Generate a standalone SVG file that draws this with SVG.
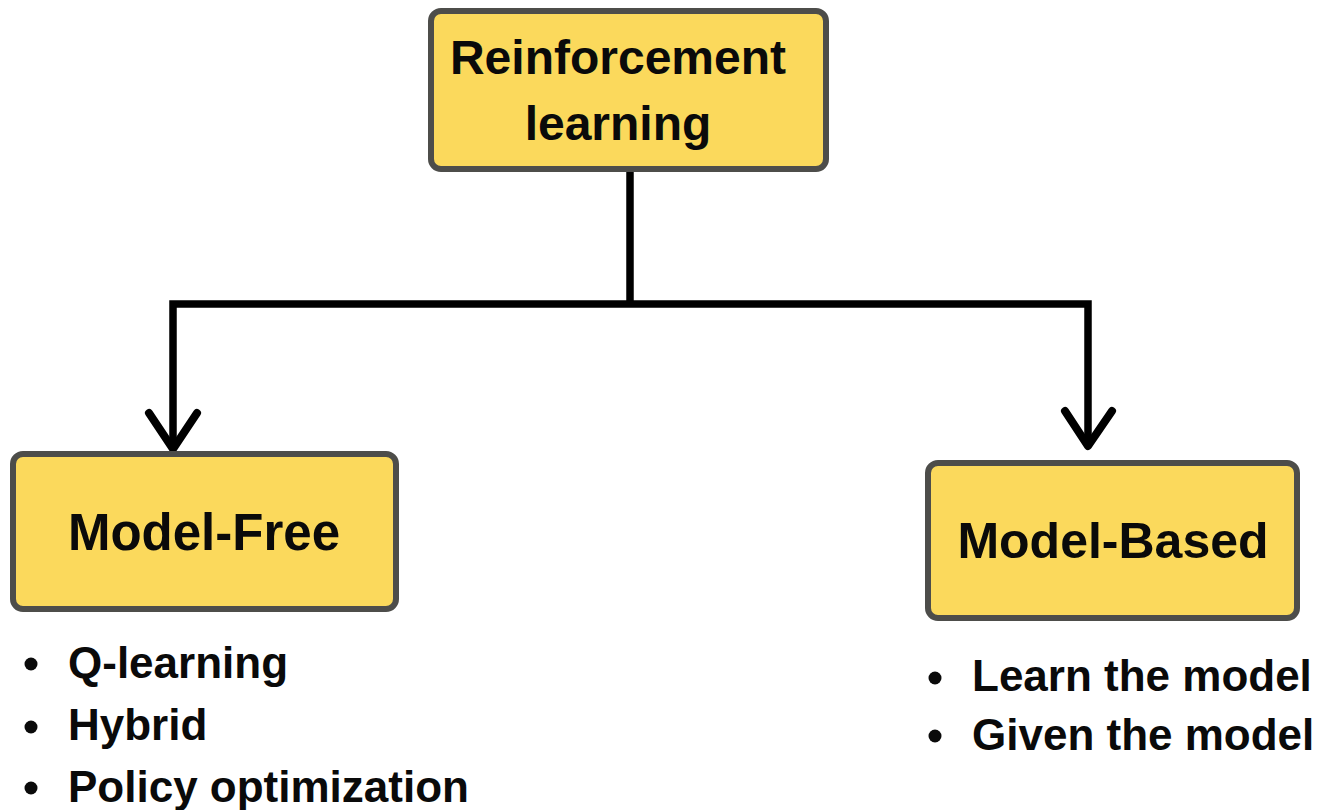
<svg xmlns="http://www.w3.org/2000/svg" width="1334" height="810" viewBox="0 0 1334 810">
  <defs>
    <style>
      .box { fill: #FBD95C; stroke: #4d4d4a; stroke-width: 6; }
      .title { font-family: "Liberation Sans", Arial, sans-serif; font-weight: bold; fill: #0a0a0a; text-anchor: middle; }
      .item { font-family: "Liberation Sans", Arial, sans-serif; font-weight: bold; fill: #0a0a0a; font-size: 44px; }
      .dot { fill: #0a0a0a; }
      .wire { fill: none; stroke: #000; stroke-width: 7.5; stroke-linejoin: miter; }
      .head { fill: none; stroke: #000; stroke-width: 8; stroke-linecap: round; stroke-linejoin: round; }
    </style>
  </defs>
  <rect width="1334" height="810" fill="#ffffff"/>

  <g id="connectors">
    <path class="wire" d="M630 170 V304"/>
    <path class="wire" d="M173 448 V304 H1088 V445"/>
    <path class="head" d="M149 413 L173 449 L197 413"/>
    <path class="head" d="M1065 411 L1088 446 L1112 411"/>
  </g>

  <g id="node-rl">
    <rect class="box" x="431" y="11" width="395" height="158" rx="10"/>
    <text class="title" x="618" y="74" font-size="48">Reinforcement</text>
    <text class="title" x="618" y="140" font-size="48">learning</text>
  </g>

  <g id="node-model-free">
    <rect class="box" x="13" y="454" width="383" height="155" rx="10"/>
    <text class="title" x="204" y="550" font-size="51">Model-Free</text>
  </g>

  <g id="node-model-based">
    <rect class="box" x="928" y="463" width="369" height="155" rx="10"/>
    <text class="title" x="1113" y="558" font-size="50">Model-Based</text>
  </g>

  <g id="list-model-free">
    <circle class="dot" cx="31" cy="664" r="6.5"/>
    <text class="item" x="68" y="678">Q-learning</text>
    <circle class="dot" cx="31" cy="727" r="6.5"/>
    <text class="item" x="68" y="740">Hybrid</text>
    <circle class="dot" cx="31" cy="788" r="6.5"/>
    <text class="item" x="68" y="802">Policy optimization</text>
  </g>

  <g id="list-model-based">
    <circle class="dot" cx="935" cy="678" r="6.5"/>
    <text class="item" x="972" y="691">Learn the model</text>
    <circle class="dot" cx="935" cy="736" r="6.5"/>
    <text class="item" x="972" y="750">Given the model</text>
  </g>
</svg>
